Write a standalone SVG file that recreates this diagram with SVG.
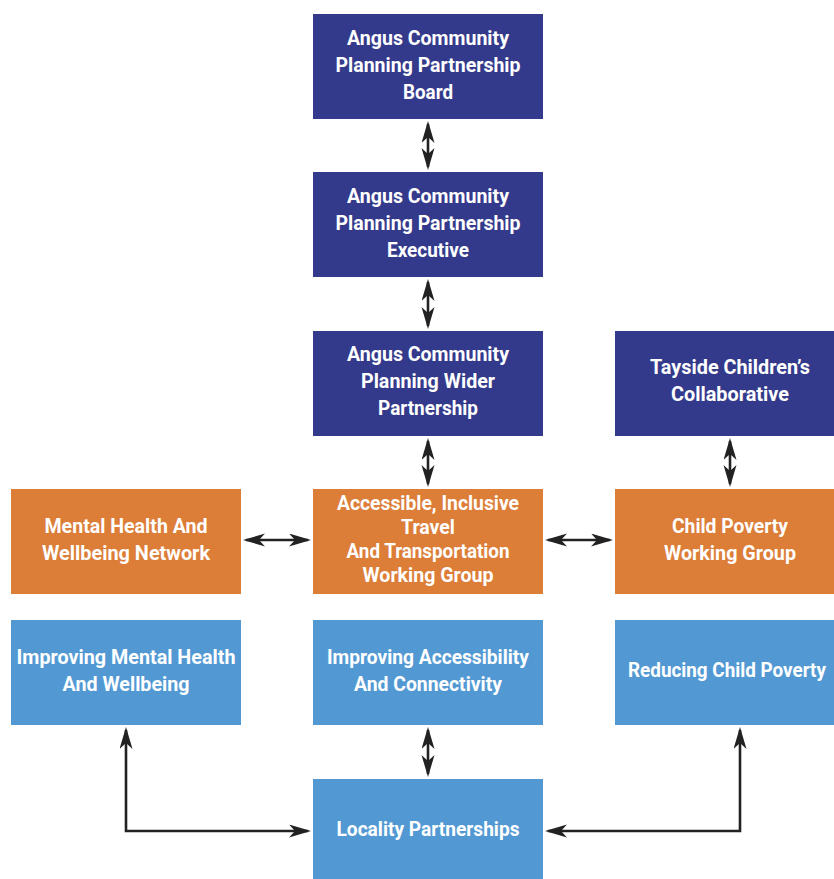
<svg xmlns="http://www.w3.org/2000/svg" width="834" height="879" viewBox="0 0 834 879">
<defs>
<style>
.dk{fill:#343a8b}
.or{fill:#dc7d38}
.lb{fill:#5299d3}
text{font-family:Roboto,"Liberation Sans",sans-serif;font-weight:700;font-size:20px;fill:#ffffff;text-anchor:middle}
.c{fill:none;stroke:#222222;stroke-width:2.6}
</style>
<marker id="ah" markerUnits="userSpaceOnUse" markerWidth="24" markerHeight="14" viewBox="0 0 24 14" refX="19" refY="6.5" orient="auto-start-reverse">
<path d="M0,0 L22,6.5 L0,13 L6,6.5 z" fill="#222222"/>
</marker>
</defs>
<rect width="834" height="879" fill="#ffffff"/>
<g id="connectors">
<path class="c" d="M428,124 V167" marker-start="url(#ah)" marker-end="url(#ah)"/>
<path class="c" d="M428,282 V326" marker-start="url(#ah)" marker-end="url(#ah)"/>
<path class="c" d="M428,441 V484" marker-start="url(#ah)" marker-end="url(#ah)"/>
<path class="c" d="M730,441 V484" marker-start="url(#ah)" marker-end="url(#ah)"/>
<path class="c" d="M246,540 H308" marker-start="url(#ah)" marker-end="url(#ah)"/>
<path class="c" d="M548,540 H610" marker-start="url(#ah)" marker-end="url(#ah)"/>
<path class="c" d="M428,730 V774" marker-start="url(#ah)" marker-end="url(#ah)"/>
<path class="c" d="M308,831 H126 V730" marker-start="url(#ah)" marker-end="url(#ah)"/>
<path class="c" d="M548,831 H740 V730" marker-start="url(#ah)" marker-end="url(#ah)"/>
</g>
<g id="board">
<rect class="dk" x="313" y="14" width="230" height="105"/>
<text x="428" y="45" textLength="162" lengthAdjust="spacingAndGlyphs">Angus Community</text>
<text x="428" y="72" textLength="185" lengthAdjust="spacingAndGlyphs">Planning Partnership</text>
<text x="428" y="99" textLength="50" lengthAdjust="spacingAndGlyphs">Board</text>
</g>
<g id="executive">
<rect class="dk" x="313" y="172" width="230" height="105"/>
<text x="428" y="203" textLength="162" lengthAdjust="spacingAndGlyphs">Angus Community</text>
<text x="428" y="230" textLength="185" lengthAdjust="spacingAndGlyphs">Planning Partnership</text>
<text x="428" y="257" textLength="82" lengthAdjust="spacingAndGlyphs">Executive</text>
</g>
<g id="wider">
<rect class="dk" x="313" y="331" width="230" height="105"/>
<text x="428" y="361" textLength="162" lengthAdjust="spacingAndGlyphs">Angus Community</text>
<text x="428" y="388" textLength="134" lengthAdjust="spacingAndGlyphs">Planning Wider</text>
<text x="428" y="415" textLength="100" lengthAdjust="spacingAndGlyphs">Partnership</text>
</g>
<g id="tayside">
<rect class="dk" x="615" y="331" width="219" height="105"/>
<text x="730" y="374" textLength="160" lengthAdjust="spacingAndGlyphs">Tayside Children’s</text>
<text x="730" y="401" textLength="118" lengthAdjust="spacingAndGlyphs">Collaborative</text>
</g>
<g id="mental-network">
<rect class="or" x="11" y="489" width="230" height="105"/>
<text x="126" y="533" textLength="163" lengthAdjust="spacingAndGlyphs">Mental Health And</text>
<text x="126" y="560" textLength="168" lengthAdjust="spacingAndGlyphs">Wellbeing Network</text>
</g>
<g id="travel-group">
<rect class="or" x="313" y="489" width="230" height="105"/>
<text x="428" y="510" textLength="182" lengthAdjust="spacingAndGlyphs">Accessible, Inclusive</text>
<text x="428" y="534" textLength="54" lengthAdjust="spacingAndGlyphs">Travel</text>
<text x="428" y="558" textLength="163" lengthAdjust="spacingAndGlyphs">And Transportation</text>
<text x="428" y="582" textLength="131" lengthAdjust="spacingAndGlyphs">Working Group</text>
</g>
<g id="poverty-group">
<rect class="or" x="615" y="489" width="219" height="105"/>
<text x="730" y="533" textLength="116" lengthAdjust="spacingAndGlyphs">Child Poverty</text>
<text x="730" y="560" textLength="132" lengthAdjust="spacingAndGlyphs">Working Group</text>
</g>
<g id="improving-mental">
<rect class="lb" x="11" y="620" width="230" height="105"/>
<text x="126" y="664" textLength="219" lengthAdjust="spacingAndGlyphs">Improving Mental Health</text>
<text x="126" y="691" textLength="127" lengthAdjust="spacingAndGlyphs">And Wellbeing</text>
</g>
<g id="improving-access">
<rect class="lb" x="313" y="620" width="230" height="105"/>
<text x="428" y="664" textLength="202" lengthAdjust="spacingAndGlyphs">Improving Accessibility</text>
<text x="428" y="691" textLength="148" lengthAdjust="spacingAndGlyphs">And Connectivity</text>
</g>
<g id="reducing-poverty">
<rect class="lb" x="615" y="620" width="219" height="105"/>
<text x="727" y="677" textLength="198" lengthAdjust="spacingAndGlyphs">Reducing Child Poverty</text>
</g>
<g id="locality">
<rect class="lb" x="313" y="779" width="230" height="100"/>
<text x="428" y="836" textLength="183" lengthAdjust="spacingAndGlyphs">Locality Partnerships</text>
</g>
</svg>
